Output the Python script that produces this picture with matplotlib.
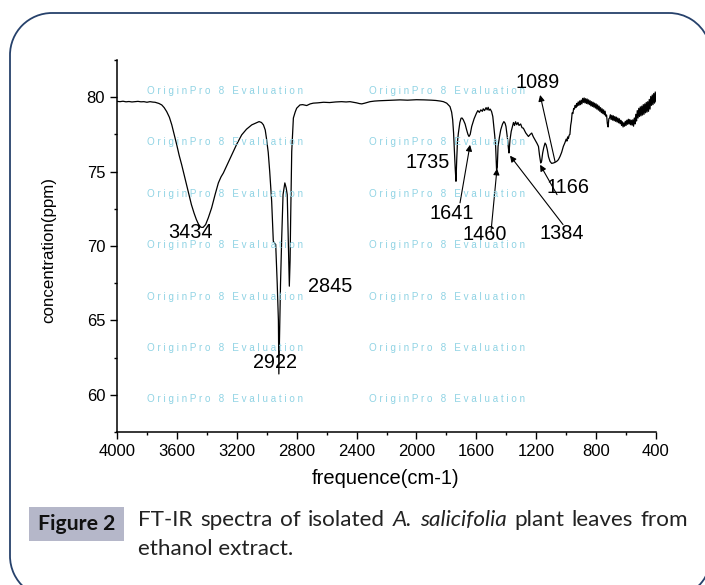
import matplotlib
matplotlib.use("Agg")
import matplotlib.pyplot as plt
from matplotlib.patches import PathPatch, Rectangle
from matplotlib.path import Path
from matplotlib.transforms import IdentityTransform, Affine2D
from matplotlib.ticker import MultipleLocator, FixedLocator

# ---------------- data ----------------
freq = [4000, 3980, 3960, 3940, 3920, 3900, 3880, 3860, 3840, 3820, 3800, 3780, 3760, 3746,
        3720, 3701, 3685, 3668, 3650, 3634, 3618, 3601, 3585, 3568, 3552, 3536, 3520, 3503,
        3485, 3470, 3455, 3440, 3425, 3408, 3390, 3368, 3345, 3323, 3305, 3290, 3260, 3234,
        3200, 3167, 3135, 3100, 3075, 3051, 3035, 3022, 3010, 3002, 2990, 2980, 2967, 2956,
        2948, 2940, 2930, 2922, 2919, 2914, 2908, 2900, 2891, 2879, 2870, 2863, 2856, 2849,
        2844, 2840, 2833, 2822, 2810, 2800, 2778, 2760, 2733, 2710, 2689, 2660, 2620, 2580,
        2540, 2500, 2470, 2444, 2400, 2380, 2365, 2345, 2310, 2280, 2250, 2200, 2150, 2110,
        2060, 2000, 1950, 1900, 1870, 1840, 1820, 1798, 1776, 1765, 1758, 1752, 1747, 1741,
        1736, 1731, 1726, 1720, 1710, 1702, 1695, 1687, 1675, 1665, 1656, 1649, 1641, 1631,
        1615, 1599, 1590, 1580, 1570, 1560, 1554, 1545, 1535, 1528, 1521, 1515, 1507, 1498,
        1490, 1483, 1477, 1471, 1465, 1460, 1455, 1446, 1437, 1425, 1416, 1408, 1402, 1391,
        1386, 1382, 1375, 1367, 1359, 1352, 1345, 1338, 1330, 1322, 1315, 1304, 1295, 1286,
        1270, 1252, 1240, 1230, 1220, 1208, 1195, 1185, 1178, 1170, 1164, 1157, 1150, 1141,
        1134, 1126, 1118, 1108, 1097, 1085, 1075, 1063, 1052, 1041, 1030, 1019, 1008,
        1000, 995, 990, 985, 980, 975, 970, 965, 960, 955, 950, 945, 940, 935, 930, 925,
        920, 915, 910, 905, 900, 895, 890, 885, 880, 875, 870, 865, 860, 855, 850, 845,
        840, 835, 830, 825, 820, 815, 810, 805, 800, 795, 790, 785, 780, 775, 770, 765,
        760, 755, 750, 745, 740, 735, 730, 725, 720, 715, 710, 705, 700, 695, 690, 685,
        680, 675, 670, 665, 660, 655, 650, 645, 640, 635, 630, 625, 620, 615, 610, 605,
        600, 595, 590, 585, 580, 575, 570, 565, 560, 555, 550, 545, 540, 535, 530, 525,
        520, 515, 510, 505, 500, 495, 490, 485, 480, 475, 470, 465, 460, 455, 450, 445,
        440, 435, 430, 425, 420, 415, 410, 405, 400]

conc = [79.72, 79.70, 79.73, 79.69, 79.71, 79.68, 79.70, 79.72, 79.69, 79.70, 79.66, 79.70, 79.67, 79.66,
        79.58, 79.48, 79.30, 79.03, 78.65, 78.14, 77.50, 76.80, 76.10, 75.46, 74.80, 74.12, 73.45, 72.78,
        72.20, 71.78, 71.45, 71.26, 71.25, 71.44, 71.90, 72.56, 73.45, 74.24, 74.65, 74.90, 75.55, 76.13,
        76.85, 77.47, 77.85, 78.14, 78.25, 78.36, 78.30, 78.14, 77.80, 77.25, 76.30, 75.00, 73.00, 70.32,
        70.20, 70.10, 67.50, 65.00, 61.40, 64.00, 67.40, 70.50, 73.45, 74.24, 73.90, 73.45, 70.50, 67.30,
        69.00, 71.90, 76.35, 78.60, 79.00, 79.26, 79.48, 79.50, 79.44, 79.55, 79.60, 79.62, 79.66, 79.64,
        79.68, 79.70, 79.68, 79.70, 79.62, 79.57, 79.55, 79.60, 79.70, 79.74, 79.76, 79.78, 79.80, 79.82,
        79.80, 79.83, 79.82, 79.80, 79.78, 79.74, 79.70, 79.60, 79.37, 79.00, 78.48, 77.60, 76.47, 75.20,
        74.35, 75.80, 77.00, 77.58, 78.30, 78.59, 78.60, 78.48, 78.20, 77.81, 77.50, 77.36, 77.50, 78.03,
        78.55, 78.93, 79.10, 78.98, 79.15, 79.05, 79.22, 79.10, 79.30, 79.15, 79.32, 79.12, 79.20, 79.03,
        78.70, 78.03, 77.40, 76.69, 75.13, 75.30, 76.69, 77.30, 77.81, 78.20, 78.36, 78.25, 78.03, 77.14,
        76.60, 76.25, 77.14, 77.70, 78.03, 78.30, 78.10, 78.35, 78.15, 78.30, 78.10, 78.20, 77.95, 77.92,
        77.60, 77.36, 77.50, 77.59, 77.35, 77.14, 76.90, 76.69, 76.10, 75.58, 75.70, 76.25, 76.60, 76.92,
        76.80, 76.47, 76.00, 75.69, 75.55, 75.58, 75.62, 75.69, 75.80, 76.02, 76.30, 76.69, 76.95,
        77.18, 77.05, 77.33, 77.22, 77.45, 77.50, 78.10, 78.40, 78.95, 78.90, 79.25, 79.20, 79.45, 79.30, 79.58, 79.40,
        79.68, 79.45, 79.75, 79.50, 79.80, 79.55, 79.92, 79.65, 79.95, 79.62, 79.90, 79.58, 79.88, 79.55, 79.82, 79.50,
        79.76, 79.42, 79.70, 79.38, 79.66, 79.33, 79.60, 79.27, 79.55, 79.20, 79.48, 79.13, 79.40, 79.05, 79.30, 78.96,
        79.22, 78.90, 79.15, 78.82, 79.06, 78.72, 78.80, 78.22, 78.00, 78.55, 78.60, 78.82, 78.50, 78.78, 78.46, 78.75,
        78.42, 78.70, 78.38, 78.66, 78.33, 78.60, 78.28, 78.55, 78.22, 78.45, 78.10, 78.35, 78.00, 78.28, 78.05, 78.38,
        78.10, 78.45, 78.18, 78.52, 78.20, 78.50, 78.15, 78.45, 78.12, 78.48, 78.05, 78.60, 78.20, 78.85, 78.40, 79.10,
        78.60, 79.25, 78.70, 79.35, 78.75, 79.40, 78.80, 79.50, 78.85, 79.55, 78.95, 79.65, 79.00, 79.70, 79.05, 79.85,
        79.20, 80.05, 79.45, 80.15, 79.50, 80.25, 79.60, 80.35, 79.70]

x_ticks = [4000, 3600, 3200, 2800, 2400, 2000, 1600, 1200, 800, 400]
y_ticks = [60, 65, 70, 75, 80]
peak_labels = ["3434", "2922", "2845", "1735", "1641", "1460", "1384", "1166", "1089"]
x_label = "frequence(cm-1)"
y_label = "concentration(ppm)"
watermark = "O r i g i n P r o   8   E v a l u a t i o n"
fig_tag = "Figure 2"
caption_line1 = [("FT-IR", "normal"), ("spectra", "normal"), ("of", "normal"), ("isolated", "normal"),
                 ("A.", "italic"), ("salicifolia", "italic"), ("plant", "normal"), ("leaves", "normal"),
                 ("from", "normal")]
caption_line2 = "ethanol extract."

# ---------------- figure ----------------
W, H = 705, 585
plt.rcParams['font.family'] = ['Liberation Sans', 'DejaVu Sans']
fig = plt.figure(figsize=(W / 100, H / 100), dpi=100)
fig.patch.set_facecolor('white')

# rounded frame, drawn piece by piece in pixel coordinates (origin bottom-left)
frame_color = '#26416b'
r = 42
def arc(cx, cy, t1, t2):
    return Path.arc(t1, t2).transformed(Affine2D().scale(r).translate(cx, cy))
pieces = [
    arc(10 + r, H - 13 - r, 90, 180),                       # top-left corner
    Path([(10 + r, H - 13), (669, H - 13)]),                # top edge
    arc(669, H - 13 - r, 25, 90),                           # top-right corner (runs off image)
    Path([(10, H - 13 - r), (10, 29)]),                     # left edge
    arc(10 + r, 29, 180, 230),                              # bottom-left corner
    arc(669, 29, 305, 340),                                 # bottom-right corner
]
for p in pieces:
    fig.add_artist(PathPatch(p, transform=IdentityTransform(), fill=False,
                             edgecolor=frame_color, lw=1.3))

ax = fig.add_axes([117 / W, 1 - 432 / H, (656 - 117) / W, (432 - 60) / H])
ax.plot(freq, conc, color='black', lw=0.9, zorder=2)
ax.set_xlim(4000, 400)
ax.set_ylim(57.5, 82.5)
ax.spines['top'].set_visible(False)
ax.spines['right'].set_visible(False)
for s in ('left', 'bottom'):
    ax.spines[s].set_linewidth(1.1)
ax.xaxis.set_major_locator(FixedLocator(x_ticks))
ax.yaxis.set_major_locator(FixedLocator(y_ticks))
ax.xaxis.set_minor_locator(MultipleLocator(200))
ax.yaxis.set_minor_locator(MultipleLocator(2.5))
ax.tick_params(which='major', direction='out', length=5, width=1.0, labelsize=12, pad=3.5)
ax.tick_params(which='minor', direction='out', length=2.5, width=1.0)
ax.set_xticklabels([str(t) for t in x_ticks])
ax.set_yticklabels([str(t) for t in y_ticks])
ax.set_facecolor('none')

# axis titles
fig.text(386 / W, 1 - 478 / H, x_label, fontsize=14.5, ha='center', va='center')
fig.text(49 / W, 1 - 250 / H, y_label, fontsize=12.2, ha='center', va='center', rotation=90)

# watermark
for ry in [91, 142, 194, 245, 297, 348, 399]:
    for cx in [147, 369]:
        fig.text(cx / W, 1 - ry / H, watermark, fontsize=7.1, color='#8fd3e4',
                 ha='left', va='center', zorder=1)

# peak labels
label_pos = [(3512, 70.9), (2945, 62.2), (2577, 67.3), (1923, 75.6), (1762, 72.18),
             (1542, 70.75), (1027, 70.84), (987, 73.92), (1188, 80.96)]
for lab, (px, py) in zip(peak_labels, label_pos):
    ax.text(px, py, lab, fontsize=14.3, ha='center', va='center', zorder=4)

arrows = [((1642, 76.8), (1709, 72.9)),
          ((1462, 75.2), (1502, 70.97)),
          ((1375, 76.07), (1021, 71.44)),
          ((1174, 75.46), (1061, 73.45)),
          ((1174, 80.15), (1074, 75.66))]
for head, tail in arrows:
    ax.annotate('', xy=head, xytext=tail,
                arrowprops=dict(arrowstyle='-|>', color='black', lw=0.8,
                                mutation_scale=9, shrinkA=0, shrinkB=0))

# caption
cap_font = ['Lato', 'DejaVu Sans']
fig.add_artist(Rectangle((29, H - 541), 95, 34, transform=IdentityTransform(),
                         facecolor='#b5b7c9', edgecolor='none'))
fig.text(76.5 / W, 1 - 524.5 / H, fig_tag, fontsize=15.3, fontweight='bold',
         family=cap_font, ha='center', va='center', color='#111111')

renderer = fig.canvas.get_renderer()
words = []
for w, st in caption_line1:
    t = fig.text(0, 1 - 525.7 / H, w, fontsize=16.2, style=st, family=cap_font,
                 ha='left', va='baseline', color='#222222')
    words.append(t)
widths = [t.get_window_extent(renderer).width for t in words]
total = 688 - 138
gap = (total - sum(widths)) / (len(words) - 1)
x = 138.0
for t, wd in zip(words, widths):
    t.set_x(x / W)
    x += wd + gap
fig.text(138 / W, 1 - 555 / H, caption_line2, fontsize=16.2, family=cap_font,
         ha='left', va='baseline', color='#222222')

fig.savefig('out.png', dpi=100)
